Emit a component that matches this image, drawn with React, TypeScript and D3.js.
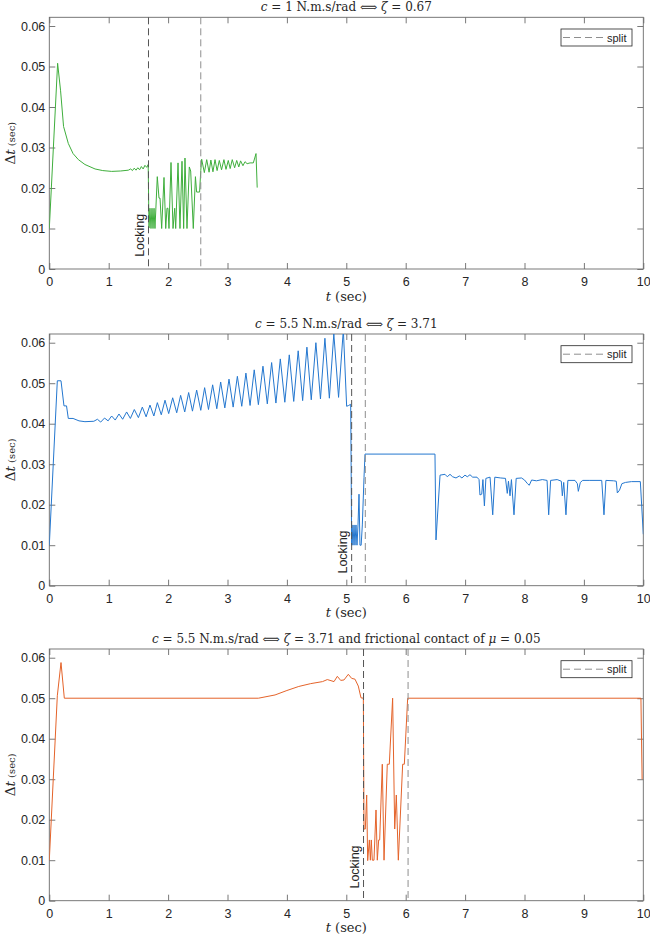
import React, { useEffect, useRef } from 'react'
import * as d3 from 'd3'

// axis ticks (shared by the three panels)
const xTicks = [0, 1, 2, 3, 4, 5, 6, 7, 8, 9, 10]
const yTicks = [0, 0.01, 0.02, 0.03, 0.04, 0.05, 0.06]
const yTickLabels = ['0', '0.01', '0.02', '0.03', '0.04', '0.05', '0.06']

// split (dashed) lines, t in sec
const splitsA = [1.67, 2.55]
const splitsB = [5.09, 5.32]
const splitsC = [5.29, 6.04]

// time step history, [t, dt]
const dtA: [number, number][] = [
  [0, 0.01], [0.14, 0.0508], [0.19, 0.044], [0.24, 0.0352], [0.32, 0.031], [0.4, 0.0285],
  [0.49, 0.027], [0.6, 0.0258], [0.77, 0.0247], [0.9, 0.0243], [1.05, 0.0241], [1.2, 0.0242],
  [1.33, 0.0244], [1.37, 0.0247], [1.4, 0.0243], [1.43, 0.0249], [1.46, 0.0244], [1.49, 0.025],
  [1.52, 0.0245], [1.55, 0.0253], [1.58, 0.0247], [1.61, 0.0256], [1.64, 0.0251], [1.665, 0.0258],
  [1.678, 0.0101], [1.695, 0.015], [1.712, 0.01], [1.729, 0.015], [1.746, 0.01], [1.763, 0.015],
  [1.779, 0.01], [1.818, 0.0228], [1.847, 0.0175], [1.864, 0.0175], [1.892, 0.01], [1.931, 0.0226],
  [1.96, 0.01], [1.981, 0.015], [1.998, 0.015], [2.015, 0.01], [2.049, 0.0263], [2.083, 0.01],
  [2.111, 0.015], [2.128, 0.01], [2.167, 0.0262], [2.2, 0.01], [2.234, 0.0266], [2.262, 0.01],
  [2.284, 0.0274], [2.318, 0.01], [2.357, 0.0252], [2.38, 0.0242], [2.424, 0.01], [2.46, 0.0228],
  [2.48, 0.019], [2.53, 0.019], [2.55, 0.0243], [2.565, 0.0271], [2.61, 0.0238], [2.65, 0.027],
  [2.69, 0.0239], [2.72, 0.0269], [2.755, 0.024], [2.79, 0.027], [2.825, 0.0243], [2.862, 0.0268],
  [2.9, 0.0245], [2.94, 0.027], [2.975, 0.0246], [3.013, 0.0268], [3.045, 0.0248], [3.08, 0.027],
  [3.12, 0.025], [3.155, 0.0268], [3.19, 0.0252], [3.22, 0.0267], [3.26, 0.0255], [3.295, 0.0265],
  [3.33, 0.026], [3.38, 0.0262], [3.435, 0.0262], [3.48, 0.0285], [3.5, 0.0201]
]

const dtB: [number, number][] = [
  [0, 0.01], [0.135, 0.0506], [0.197, 0.0506], [0.247, 0.0444], [0.29, 0.0444], [0.32, 0.0413],
  [0.4, 0.0413], [0.45, 0.041], [0.5, 0.0407], [0.6, 0.0405], [0.75, 0.0406],
  [0.81, 0.0411], [0.865, 0.0404], [0.93, 0.0414], [0.99, 0.0407], [1.05, 0.0419], [1.11, 0.0409],
  [1.173, 0.0424], [1.235, 0.0411], [1.302, 0.0429], [1.365, 0.0413], [1.431, 0.0435], [1.5, 0.0415],
  [1.566, 0.0441], [1.63, 0.0417], [1.695, 0.0446], [1.76, 0.0419], [1.819, 0.0452], [1.885, 0.0422],
  [1.948, 0.0458], [2.01, 0.0425], [2.077, 0.0464], [2.145, 0.0427], [2.211, 0.047], [2.28, 0.0429],
  [2.346, 0.0477], [2.41, 0.0431], [2.481, 0.0483], [2.55, 0.0433], [2.615, 0.0489], [2.68, 0.0435],
  [2.75, 0.0496], [2.82, 0.0437], [2.885, 0.0503], [2.955, 0.0439], [3.025, 0.051], [3.095, 0.0441],
  [3.166, 0.0517], [3.24, 0.0443], [3.31, 0.0525], [3.38, 0.0445], [3.45, 0.0533], [3.52, 0.0447],
  [3.597, 0.0542], [3.67, 0.0449], [3.743, 0.0551], [3.815, 0.0451], [3.889, 0.056], [3.965, 0.0453],
  [4.04, 0.057], [4.115, 0.0455], [4.19, 0.058], [4.265, 0.0457], [4.337, 0.0589], [4.41, 0.0459],
  [4.488, 0.06], [4.565, 0.0461], [4.64, 0.0611], [4.715, 0.0463], [4.79, 0.0622], [4.87, 0.0465],
  [4.95, 0.0632], [5.006, 0.0443], [5.04, 0.0445], [5.074, 0.0448],
  [5.09, 0.01], [5.096, 0.015], [5.113, 0.01], [5.13, 0.015], [5.146, 0.01], [5.163, 0.015],
  [5.18, 0.01], [5.197, 0.015], [5.214, 0.0226], [5.23, 0.01], [5.25, 0.01], [5.27, 0.015],
  [5.298, 0.0267], [5.315, 0.0325], [6.493, 0.0325], [6.51, 0.0113], [6.578, 0.0273],
  [6.662, 0.0275], [6.7, 0.0269], [6.746, 0.0275], [6.79, 0.0269], [6.847, 0.0266], [6.903, 0.0271],
  [6.947, 0.0266], [6.998, 0.0273], [7.037, 0.0269], [7.082, 0.0274], [7.128, 0.0268], [7.2, 0.0268],
  [7.235, 0.0262], [7.25, 0.0224], [7.28, 0.0226], [7.3, 0.0262], [7.325, 0.0197], [7.35, 0.0265],
  [7.42, 0.0268], [7.465, 0.0175], [7.5, 0.0268], [7.6, 0.0266], [7.68, 0.0265], [7.71, 0.0228],
  [7.73, 0.0258], [7.756, 0.0222], [7.78, 0.0262], [7.823, 0.0175], [7.86, 0.0265], [7.95, 0.0266],
  [8.0, 0.0261], [8.05, 0.0252], [8.08, 0.0248], [8.12, 0.0261], [8.2, 0.0259], [8.3, 0.0262],
  [8.38, 0.026], [8.407, 0.0175], [8.44, 0.026], [8.55, 0.0262], [8.62, 0.0258], [8.637, 0.0222],
  [8.66, 0.0255], [8.698, 0.0175], [8.73, 0.026], [8.85, 0.026], [8.89, 0.0252], [8.906, 0.0233],
  [8.94, 0.0255], [8.98, 0.026], [9.1, 0.026], [9.3, 0.026], [9.338, 0.0175], [9.37, 0.026],
  [9.5, 0.0259], [9.545, 0.0258], [9.563, 0.0229], [9.6, 0.0236], [9.64, 0.0252], [9.7, 0.0255],
  [9.8, 0.0257], [9.95, 0.0257], [10, 0.0127]
]

const dtC: [number, number][] = [
  [0, 0.01], [0.135, 0.0506], [0.197, 0.0588], [0.253, 0.05], [3.52, 0.05], [3.8, 0.0508],
  [4.0, 0.0519], [4.2, 0.0529], [4.4, 0.0536], [4.6, 0.0541], [4.68, 0.0546], [4.726, 0.0544],
  [4.793, 0.0541], [4.849, 0.0554], [4.905, 0.0544], [4.961, 0.0545], [5.034, 0.0559], [5.09, 0.0549],
  [5.146, 0.0547], [5.202, 0.053], [5.247, 0.0501], [5.287, 0.05],
  [5.298, 0.0177], [5.32, 0.0177], [5.343, 0.0261], [5.36, 0.0099], [5.388, 0.015], [5.405, 0.01],
  [5.421, 0.015], [5.438, 0.01], [5.466, 0.01], [5.5, 0.0224], [5.522, 0.01], [5.545, 0.015],
  [5.562, 0.015], [5.606, 0.0337], [5.635, 0.01], [5.69, 0.0337], [5.724, 0.0337], [5.78, 0.05],
  [5.815, 0.0177], [5.842, 0.0261], [5.876, 0.01], [5.949, 0.0337], [5.977, 0.0337], [6.033, 0.05],
  [9.96, 0.05], [9.98, 0.03]
]

// title pieces: [text, italic]
const titleA: [string, boolean][] = [['c', true], [' = 1 N.m.s/rad ⟺ ', false], ['ζ', true], [' = 0.67', false]]
const titleB: [string, boolean][] = [['c', true], [' = 5.5 N.m.s/rad ⟺ ', false], ['ζ', true], [' = 3.71', false]]
const titleC: [string, boolean][] = [
  ['c', true], [' = 5.5 N.m.s/rad ⟺ ', false], ['ζ', true],
  [' = 3.71 and frictional contact of ', false], ['μ', true], [' = 0.05', false]
]

const panels = [
  { data: dtA, splits: splitsA, title: titleA, color: '#3fae3c', top: 17.3 },
  { data: dtB, splits: splitsB, title: titleB, color: '#2477cf', top: 334 },
  { data: dtC, splits: splitsC, title: titleC, color: '#e4632a', top: 649 }
]

const left = 49.3
const right = 643.3
const plotH = 251.7
const sans = '"Liberation Sans", Arial, Helvetica, sans-serif'
const serif = '"DejaVu Serif", "Liberation Serif", serif'

function drawPanel(svg: any, p: any, idx: number) {
  const x = d3.scaleLinear().domain([0, 10]).range([left, right])
  const y = d3.scaleLinear().domain([0, 0.06215]).range([p.top + plotH, p.top])
  const bottom = p.top + plotH

  const g = svg.append('g')

  g.append('clipPath')
    .attr('id', 'clip' + idx)
    .append('rect')
    .attr('x', left)
    .attr('y', p.top)
    .attr('width', right - left)
    .attr('height', plotH)

  // axes with inward ticks
  const axisColor = '#6a6a6a'
  const styleAxis = (a: any) => {
    a.select('.domain').remove()
    a.selectAll('.tick line').attr('stroke', axisColor).attr('stroke-width', 0.9)
    a.selectAll('.tick text')
      .attr('fill', '#262626')
      .style('font-family', sans)
  }

  const xb = g.append('g')
    .attr('transform', 'translate(0,' + bottom + ')')
    .call(d3.axisBottom(x).tickValues(xTicks).tickFormat(d3.format('d')).tickSize(-6).tickPadding(8))
  styleAxis(xb)
  xb.selectAll('.tick text').style('font-size', '12.5px')

  const xt = g.append('g')
    .attr('transform', 'translate(0,' + p.top + ')')
    .call(d3.axisTop(x).tickValues(xTicks).tickFormat(() => '').tickSize(-6))
  styleAxis(xt)

  const yl = g.append('g')
    .attr('transform', 'translate(' + left + ',0)')
    .call(d3.axisLeft(y).tickValues(yTicks).tickFormat((d: any, i: number) => yTickLabels[i]).tickSize(-6).tickPadding(4))
  styleAxis(yl)
  yl.selectAll('.tick text').style('font-size', '12.5px')

  const yr = g.append('g')
    .attr('transform', 'translate(' + right + ',0)')
    .call(d3.axisRight(y).tickValues(yTicks).tickFormat(() => '').tickSize(-6))
  styleAxis(yr)

  g.append('rect')
    .attr('x', left)
    .attr('y', p.top)
    .attr('width', right - left)
    .attr('height', plotH)
    .attr('fill', 'none')
    .attr('stroke', axisColor)
    .attr('stroke-width', 0.9)

  // data line
  const line = d3.line<[number, number]>()
    .x(d => x(d[0]))
    .y(d => y(d[1]))

  g.append('path')
    .datum(p.data)
    .attr('clip-path', 'url(#clip' + idx + ')')
    .attr('d', line)
    .attr('fill', 'none')
    .attr('stroke', p.color)
    .attr('stroke-width', 1)
    .attr('stroke-linejoin', 'round')

  // split lines
  p.splits.forEach((s: number, i: number) => {
    g.append('line')
      .attr('x1', x(s))
      .attr('x2', x(s))
      .attr('y1', p.top)
      .attr('y2', bottom)
      .attr('stroke', i === 0 ? '#555555' : '#8e8e8e')
      .attr('stroke-width', 1)
      .attr('stroke-dasharray', '7,4')
  })

  // locking label
  g.append('text')
    .attr('transform', 'translate(' + (x(p.splits[0]) - 4.8) + ',' + y(0.003) + ') rotate(-90)')
    .attr('text-anchor', 'start')
    .style('font-family', sans)
    .style('font-size', '12.5px')
    .attr('fill', '#262626')
    .text('Locking')

  // legend
  const lw = 71, lh = 17
  const lx = right - 11.3 - lw, ly = p.top + 11.7
  g.append('rect')
    .attr('x', lx).attr('y', ly).attr('width', lw).attr('height', lh)
    .attr('fill', 'white').attr('stroke', '#262626').attr('stroke-width', 0.8)
  g.append('line')
    .attr('x1', lx + 2).attr('x2', lx + 43)
    .attr('y1', ly + lh / 2).attr('y2', ly + lh / 2)
    .attr('stroke', '#8e8e8e').attr('stroke-width', 1).attr('stroke-dasharray', '7,4')
  g.append('text')
    .attr('x', lx + 46).attr('y', ly + lh / 2 + 4)
    .style('font-family', sans).style('font-size', '11px')
    .attr('fill', '#262626')
    .text('split')

  // title
  const title = g.append('text')
    .attr('x', (left + right) / 2)
    .attr('y', p.top - 6)
    .attr('text-anchor', 'middle')
    .style('font-family', serif)
    .style('font-size', '12px')
    .attr('fill', '#262626')
  p.title.forEach((part: [string, boolean]) => {
    title.append('tspan')
      .style('font-style', part[1] ? 'italic' : 'normal')
      .text(part[0])
  })

  // x label
  const xl = g.append('text')
    .attr('x', (left + right) / 2)
    .attr('y', bottom + 31.5)
    .attr('text-anchor', 'middle')
    .style('font-family', serif)
    .style('font-size', '13px')
    .attr('fill', '#262626')
  xl.append('tspan').style('font-style', 'italic').text('t')
  xl.append('tspan').text(' (sec)')

  // y label
  const ylab = g.append('text')
    .attr('transform', 'translate(15,' + (p.top + plotH / 2) + ') rotate(-90)')
    .attr('text-anchor', 'middle')
    .style('font-family', serif)
    .style('font-size', '13.5px')
    .attr('fill', '#262626')
  ylab.append('tspan').text('Δ')
  ylab.append('tspan').style('font-style', 'italic').text('t')
  ylab.append('tspan').style('font-size', '10px').text(' (sec)')
}

export default function App() {
  const ref = useRef<SVGSVGElement>(null)

  useEffect(() => {
    const svg = d3.select(ref.current)
    svg.selectAll('*').remove()
    panels.forEach((p, i) => drawPanel(svg, p, i))
  }, [])

  return (
    <svg
      ref={ref}
      width={650}
      height={937}
      style={{ position: 'absolute', left: 0, top: 0, background: 'white' }}
    />
  )
}
